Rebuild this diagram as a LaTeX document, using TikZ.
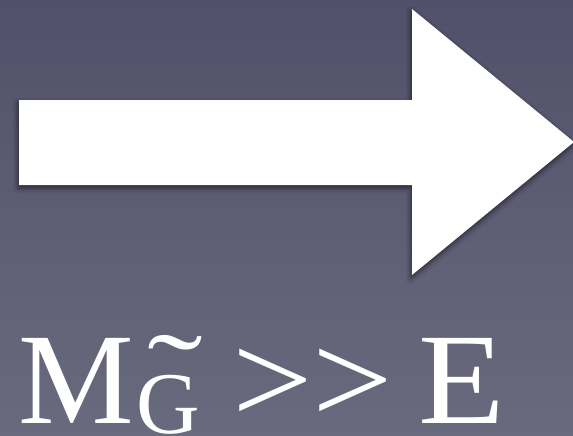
\documentclass[tikz,border=0pt]{standalone}
\usepackage{fontspec}
\setmainfont{Liberation Serif}[Ligatures=TeXOff]
\usepackage{xcolor}
\usetikzlibrary{shadows.blur}
\definecolor{slatetop}{RGB}{80,80,106}
\definecolor{slatebot}{RGB}{106,106,126}
\begin{document}
\begin{tikzpicture}[x=1pt, y=-1pt,
  bigtext/.style={text=white, inner sep=0pt, anchor=base west, font=\fontsize{130}{130}\selectfont},
  subtext/.style={text=white, inner sep=0pt, anchor=base west, font=\fontsize{88}{88}\selectfont}]
\useasboundingbox (0,0) rectangle (573,436);
% slide background
\fill[top color=slatetop, bottom color=slatebot] (0,0) rectangle (573,436);
% the big arrow
\fill[white, blur shadow={shadow xshift=-1pt, shadow yshift=-3pt, shadow blur radius=5pt, shadow opacity=60}]
  (19,100) -- (412,100) -- (412,9) -- (574,142) -- (412,275) -- (412,185) -- (19,185) -- cycle;
% relation below
\node[bigtext] (mass) at (18,423) {M};
\node[subtext] (gluino) at (136,433) {G};
\node[text=white, inner sep=0pt, font=\fontsize{88}{88}\selectfont, xscale=1.9, yscale=1.3] (tilde) at (175,374) {\symbol{"02DC}};
\node[bigtext, xscale=1.1] (gg) at (232,423) {>>};
\node[bigtext, xscale=1.09] (energy) at (418,423) {E};
\end{tikzpicture}
\end{document}
